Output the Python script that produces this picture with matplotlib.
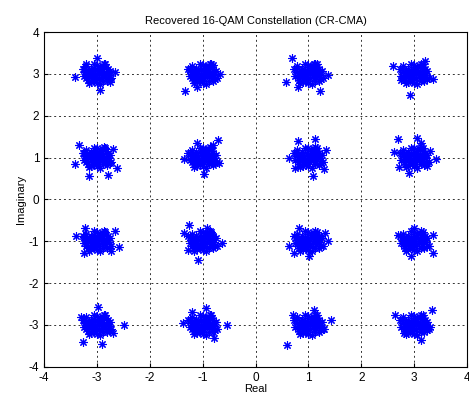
import matplotlib.pyplot as plt

plt.rcParams['font.family'] = ['Liberation Sans', 'DejaVu Sans']
plt.rcParams['axes.unicode_minus'] = False

levels = [-3, -1, 1, 3]

# dense core of each cluster, offsets from the ideal point (estimated)
core_dx = [0.00, 0.10, -0.10, 0.05, -0.05, 0.18, -0.18, 0.12, -0.12, 0.00,
           0.00, 0.20, -0.20, 0.08, -0.08, 0.15, -0.15, 0.22, -0.22, 0.03,
           -0.03, 0.11, -0.11, 0.17, -0.17, 0.06, -0.06, 0.25, -0.25, 0.14,
           -0.14, 0.02, -0.02, 0.09, -0.09, 0.19, -0.21, 0.24, -0.24, 0.13,
           0.27, -0.27, 0.16, -0.16]
core_dy = [0.00, 0.05, -0.04, 0.15, -0.14, 0.02, -0.03, -0.16, 0.13, 0.22,
           -0.21, 0.12, -0.10, 0.08, -0.08, -0.07, 0.06, -0.02, 0.04, -0.10,
           0.10, 0.20, -0.19, 0.16, -0.15, -0.24, 0.24, 0.07, -0.05, 0.00,
           0.01, 0.06, -0.06, -0.03, 0.03, -0.17, 0.18, -0.12, 0.11, 0.25,
           -0.10, 0.12, 0.23, -0.22]

# stray points around each cluster
outliers = {
    (-3, 3): [(-3.42, 2.94), (-3.0, 3.38), (-2.95, 2.62), (-2.66, 3.05), (-3.2, 3.25), (-2.75, 2.8)],
    (-1, 3): [(-1.34, 2.59), (-0.68, 3.0), (-1.25, 3.1), (-0.8, 3.22), (-1.1, 2.7)],
    (1, 3): [(0.69, 3.38), (1.37, 2.97), (0.57, 2.8), (1.21, 2.59), (0.8, 2.7), (1.1, 3.25)],
    (3, 3): [(2.92, 2.5), (2.59, 3.2), (3.35, 2.88), (3.2, 3.3), (2.75, 2.85)],
    (-3, 1): [(-3.34, 1.3), (-3.42, 0.86), (-3.15, 0.56), (-2.79, 0.59), (-2.63, 0.76), (-2.7, 1.2)],
    (-1, 1): [(-0.72, 1.42), (-1.11, 1.34), (-1.36, 0.97), (-0.97, 0.62), (-0.7, 0.88), (-0.8, 1.3)],
    (1, 1): [(0.81, 1.41), (1.13, 1.44), (1.33, 1.19), (1.08, 0.55), (1.3, 0.72), (0.64, 1.0), (0.75, 0.75)],
    (3, 1): [(2.7, 1.45), (3.05, 1.47), (3.12, 1.35), (3.42, 0.97), (2.62, 1.13), (2.72, 0.77),
             (2.9, 0.64), (3.24, 0.8), (3.3, 1.15)],
    (-3, -1): [(-3.4, -0.88), (-3.22, -0.67), (-2.65, -0.75), (-2.58, -1.14), (-3.24, -1.28), (-2.73, -1.24)],
    (-1, -1): [(-1.26, -0.62), (-1.35, -0.8), (-1.08, -1.44), (-1.28, -1.2), (-0.64, -1.04), (-0.92, -0.68)],
    (1, -1): [(0.64, -1.12), (0.73, -1.28), (1.01, -1.36), (0.82, -0.68), (1.32, -0.8), (1.37, -1.0)],
    (3, -1): [(2.69, -0.84), (3.35, -1.28), (2.94, -1.34), (3.0, -0.68), (3.35, -0.85)],
    (-3, -3): [(-2.48, -3.0), (-3.27, -3.4), (-2.9, -3.45), (-2.98, -2.58), (-3.3, -2.8), (-2.7, -3.2)],
    (-1, -3): [(-0.93, -2.6), (-0.55, -3.0), (-0.78, -3.3), (-1.38, -2.95), (-1.2, -2.7)],
    (1, -3): [(0.6, -3.47), (1.42, -2.87), (0.7, -2.75), (1.1, -2.65), (1.3, -3.1)],
    (3, -3): [(3.33, -2.63), (3.12, -3.37), (2.63, -2.77), (3.3, -3.05), (2.8, -3.2)],
}

xs = []
ys = []
for cy in levels[::-1]:
    for cx in levels:
        for dx, dy in zip(core_dx, core_dy):
            xs.append(cx + dx)
            ys.append(cy + dy)
        for px, py in outliers[(cx, cy)]:
            xs.append(px)
            ys.append(py)

fig = plt.figure(figsize=(4.69, 3.97), dpi=100)
ax = fig.add_axes([0.094, 0.076, 0.902, 0.843])
ax.plot(xs, ys, linestyle='none', marker=(8, 2, 0), markersize=6,
        markeredgewidth=0.8, color='#0000FF')
ax.set_xlim(-4, 4)
ax.set_ylim(-4, 4)
ax.set_xticks(range(-4, 5))
ax.set_yticks(range(-4, 5))
ax.grid(True, linestyle=(0, (2, 3)), color='black', linewidth=0.7, alpha=0.8)
ax.tick_params(direction='in', labelsize=8.5, length=3)
ax.set_xlabel('Real', fontsize=8, labelpad=0)
ax.set_ylabel('Imaginary', fontsize=8, labelpad=2)
ax.set_title('Recovered 16-QAM Constellation (CR-CMA)', fontsize=8, pad=6)
fig.savefig('out.png', dpi=100)
